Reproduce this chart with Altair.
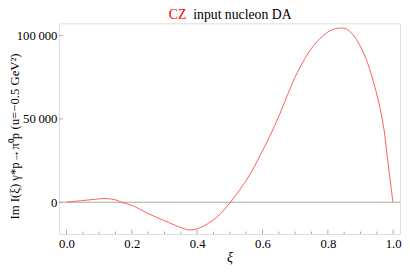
import altair as alt
import pandas as pd

xi = [0.0, 0.05, 0.1, 0.118, 0.15, 0.168, 0.2, 0.25, 0.3, 0.35, 0.375, 0.4, 0.442, 0.472,
      0.502, 0.532, 0.562, 0.592, 0.622, 0.652, 0.68, 0.707, 0.757, 0.807, 0.842, 0.857, 0.877, 0.897,
      0.917, 0.937, 0.957, 0.972, 0.982, 0.992, 0.999]
im_val = [0, 1000, 2000, 2200, 1400, 0, -1900, -6800, -11100, -15200, -16600, -16000, -11700, -6800,
          0, 7900, 16800, 27800, 39500, 52500, 66000, 78000, 94200, 103000, 104600, 104000, 100500, 94500,
          86000, 74000, 59000, 43500, 27000, 11500, 0]

x_major = [0.0, 0.2, 0.4, 0.6, 0.8, 1.0]
x_minor = [0.05, 0.1, 0.15, 0.25, 0.3, 0.35, 0.45, 0.5, 0.55, 0.65, 0.7, 0.75, 0.85, 0.9, 0.95]
y_major = [0, 50000, 100000]

title_red = "CZ"
title_black = "input nucleon DA"
y_title = "Im I(ξ)  γ*p→π⁰p  (u=−0.5 GeV²)"
x_title = "ξ"

W, H = 348, 215
FONT = "Liberation Serif, Times New Roman, serif"
GRAY = "#a8a8a8"
RED = "#ff5a5a"

xs = alt.Scale(domain=[-0.023, 1.021], nice=False, zero=False)
ys = alt.Scale(domain=[-19100, 107400], nice=False, zero=False)

df = pd.DataFrame({"xi": xi, "v": im_val})

line = alt.Chart(df).mark_line(color=RED, strokeWidth=1, interpolate="catmull-rom").encode(
    x=alt.X("xi:Q", scale=xs,
            axis=alt.Axis(values=x_major, format=".1f", ticks=False, domain=False, grid=False,
                          labelFont=FONT, labelFontSize=13, labelColor="black", labelPadding=4,
                          title=x_title, titleFont=FONT, titleFontSize=14, titleFontStyle="italic",
                          titleFontWeight="normal", titlePadding=0, titleColor="black")),
    y=alt.Y("v:Q", scale=ys,
            axis=alt.Axis(values=y_major, ticks=False, domain=False, grid=False,
                          labelExpr="replace(format(datum.value, ','), ',', '\u2009')",
                          labelFont=FONT, labelFontSize=13, labelColor="black", labelPadding=2,
                          title=y_title, titleFont=FONT, titleFontSize=13,
                          titleFontWeight="normal", titleColor="black",
                          titleX=-45, titleY=115, titleBaseline="middle", titleAngle=270)),
)

zero = alt.Chart(pd.DataFrame({"v": [0]})).mark_rule(color=GRAY, strokeWidth=1).encode(
    y=alt.Y("v:Q", scale=ys), x=alt.value(0), x2=alt.value(W))

xmaj = alt.Chart(pd.DataFrame({"t": x_major})).mark_rule(color=GRAY).encode(
    x=alt.X("t:Q", scale=xs), y=alt.value(H), y2=alt.value(H - 4.5))
xmin = alt.Chart(pd.DataFrame({"t": x_minor})).mark_rule(color=GRAY).encode(
    x=alt.X("t:Q", scale=xs), y=alt.value(H), y2=alt.value(H - 2.5))
ymaj = alt.Chart(pd.DataFrame({"t": y_major})).mark_rule(color=GRAY).encode(
    y=alt.Y("t:Q", scale=ys), x=alt.value(0), x2=alt.value(4))

t1 = alt.Chart(pd.DataFrame({"t": [title_red]})).mark_text(
    align="right", baseline="alphabetic", font=FONT, fontSize=14, color="red").encode(
    text="t:N", x=alt.value(130), y=alt.value(-4))
t2 = alt.Chart(pd.DataFrame({"t": [title_black]})).mark_text(
    align="left", baseline="alphabetic", font=FONT, fontSize=14, color="black").encode(
    text="t:N", x=alt.value(137), y=alt.value(-4))

chart = alt.layer(zero, xmaj, xmin, ymaj, line, t1, t2).properties(
    width=W, height=H,
    autosize=alt.AutoSizeParams(type="none"),
    padding={"left": 52, "top": 13, "right": 2, "bottom": 29},
).configure_view(stroke=GRAY, strokeWidth=1).configure_axis(
    labelFont=FONT, titleFont=FONT).configure(background="white")

chart.save("out.html", embed_options={"renderer": "svg", "actions": False})
